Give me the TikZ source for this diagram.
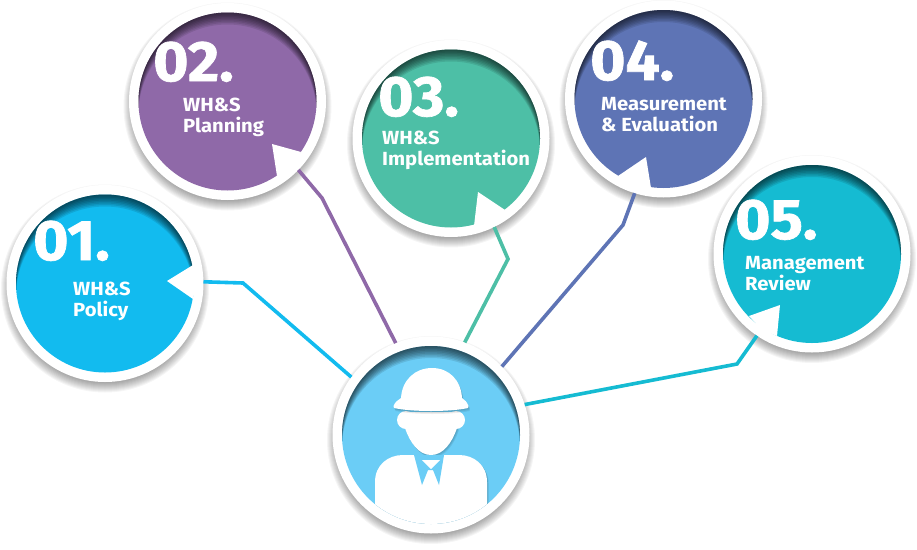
\documentclass[tikz,border=0pt]{standalone}
\usepackage{fontspec}
\setmainfont{Fira Sans}
\newfontfamily\numfont[FakeBold=1.2]{Fira Sans Bold}
\definecolor{policyblue}{HTML}{12BBEF}
\definecolor{planpurple}{HTML}{8F69A8}
\definecolor{implgreen}{HTML}{4DBFA6}
\definecolor{measindigo}{HTML}{5E74B5}
\definecolor{reviewteal}{HTML}{15BBD2}
\definecolor{hubblue}{HTML}{6BCDF6}
\tikzset{
  ring/.style={circle,fill=white,minimum size=197pt,inner sep=0pt,outer sep=0pt},
  link/.style={line width=3.6pt},
  numlabel/.style={anchor=base west,inner sep=0pt,text=white,xscale=1.06,font=\numfont\fontsize{57}{57}\selectfont},
  textlabel/.style={anchor=west,inner sep=0pt,text=white,align=left,xscale=1.065,font=\bfseries\fontsize{19}{21}\selectfont},
}
% name, x, y, colour
\newcommand{\disc}[4]{
  \foreach \s in {0,...,10}
    \fill [black,opacity=0.04] (#2,-#3-5) circle (94+\s);
  \node [ring] (#1) at (#2,-#3) {};
  \fill [#4] (#2,-#3) circle (89);
  \begin{scope}
    \clip (#2,-#3) circle (89);
    \foreach \s in {1,...,8}
      \fill [black,opacity=0.1,even odd rule] (#2,-#3) circle (130) (#2,-#3-1.5*\s) circle (89);
  \end{scope}
}
\newcommand{\iconbody}{(375,-530) -- (375,-482) .. controls (375,-465) and (388,-455) .. (403,-455) -- (459,-455) .. controls (474,-455) and (487,-465) .. (487,-482) -- (487,-530) -- cycle}
\newcommand{\iconhead}{(407,-412) -- (455,-412) -- (457,-428) .. controls (452,-443) and (443,-455) .. (431,-455) .. controls (419,-455) and (410,-443) .. (405,-428) -- cycle}
\newcommand{\iconhelmet}{(393.5,-406) .. controls (395,-402) and (398,-400) .. (401,-398) .. controls (402,-380) and (415,-368) .. (432,-368) .. controls (449,-368) and (461,-380) .. (462,-398) .. controls (465,-400) and (467,-402) .. (468.5,-406) -- (468,-408) .. controls (450,-412) and (412,-412) .. (394,-408) -- cycle}
\begin{document}
\begin{tikzpicture}[x=1pt,y=1pt]
\useasboundingbox (0,0) rectangle (917,-549);
\disc{policy}{105}{283.5}{policyblue}
\disc{planning}{227.5}{101.5}{planpurple}
\disc{implement}{451}{138.5}{implgreen}
\disc{measure}{663.5}{99}{measindigo}
\disc{review}{812}{254}{reviewteal}
\disc{hub}{431}{435}{hubblue}
% notches
\fill [white] (167,-281) -- (193,-265) -- (196,-282) -- (193,-299) -- cycle;
\fill [white] (272,-144) -- (301,-152) -- (296,-165) -- (277,-176) -- cycle;
\fill [white] (478,-192) -- (505,-210) -- (490,-224) -- (474,-226) -- cycle;
\fill [white] (646,-157) -- (618,-176) -- (632,-187) -- (651,-188) -- cycle;
\fill [white] (780,-305) -- (749,-316) -- (762,-330) -- (777,-336) -- cycle;
% connectors
\coordinate (policybend) at (243,-283);
\coordinate (planbend) at (322,-198);
\coordinate (implbend) at (508,-259);
\coordinate (measbend) at (623,-225);
\coordinate (reviewbend) at (737,-364);
\draw [link,policyblue] (policy.1.5) -- (policybend) -- (hub.144.4);
\draw [link,planpurple] (planning.-44) -- (planbend) -- (hub.111.2);
\draw [link,implgreen] (implement.-64) -- (implbend) -- (hub.70.5);
\draw [link,measindigo] (measure.-107.6) -- (measbend) -- (hub.44.2);
\draw [link,reviewteal] (review.-124.2) -- (reviewbend) -- (hub.18);
% worker icon
\begin{scope}
  \clip (431,-435) circle (89);
  \foreach \s in {1,2,3}
    \fill [black,opacity=0.07] [shift={(0.6*\s,-0.8*\s)}] \iconbody \iconhead;
  \fill [white] \iconbody;
  \fill [white] \iconhead;
  \fill [white] (406,-420) circle (9);
  \fill [white] (456,-420) circle (9);
  \foreach \s in {1,2,3}
    \fill [black,opacity=0.07] [shift={(0.5*\s,-1*\s)}] \iconhelmet;
  \fill [white] \iconhelmet;
  \fill [hubblue] (414,-455) -- (444,-455) -- (439,-485) -- (433,-470) -- (428,-470) -- (422,-485) -- cycle;
  \fill [white] (422,-460) -- (440,-460) -- (431,-469) -- cycle;
\end{scope}
% labels
\node [numlabel] (numone) at (33,-260) {01.};
\node [numlabel] (numtwo) at (153,-81) {02.};
\node [numlabel] (numthree) at (378,-116) {03.};
\node [numlabel] (numfour) at (590,-80) {04.};
\node [numlabel] (numfive) at (735,-239) {05.};
\node [textlabel] (textone) at (73,-301) {WH\&S\\Policy};
\node [textlabel] (texttwo) at (183,-117) {WH\&S\\Planning};
\node [textlabel] (textthree) at (382,-150) {WH\&S\\Implementation};
\node [textlabel] (textfour) at (601,-115) {Measurement\\\& Evaluation};
\node [textlabel] (textfive) at (745,-274) {Management\\Review};
\end{tikzpicture}
\end{document}
